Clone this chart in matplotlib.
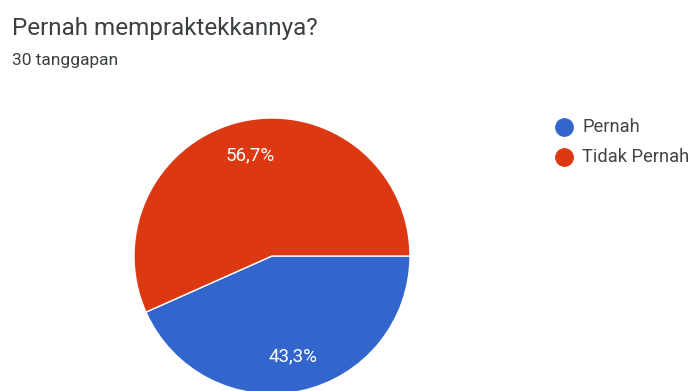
import matplotlib.pyplot as plt

plt.rcParams['font.family'] = ['Roboto', 'DejaVu Sans']

title = 'Pernah mempraktekkannya?'
subtitle = '30 tanggapan'
categories = ['Pernah', 'Tidak Pernah']
counts = [13, 17]
colors = ['#3366cc', '#dc3912']

W, H = 697, 391
fig = plt.figure(figsize=(W / 100, H / 100), dpi=100)

# overlay in pixel coordinates for the header and legend
top = fig.add_axes([0, 0, 1, 1])
top.set_xlim(0, W)
top.set_ylim(H, 0)
top.axis('off')

# pie centred at (272, 256) px, radius 138 px
cx, cy, r = 272, 256, 138
ax = fig.add_axes([(cx - r) / W, (H - cy - r) / H, 2 * r / W, 2 * r / H])
ax.pie(counts, colors=colors, startangle=0, counterclock=False, radius=1,
       autopct=lambda p: f'{p:.1f}%'.replace('.', ','), pctdistance=0.745,
       wedgeprops=dict(edgecolor='white', linewidth=1),
       textprops=dict(color='white', fontsize=13.5))
ax.set_xlim(-1, 1)
ax.set_ylim(-1, 1)
ax.set_aspect('equal')
ax.axis('off')

top.text(12, 35, title, fontsize=17.5, color='#3c4043', va='baseline')
top.text(12, 65, subtitle, fontsize=12.5, color='#3c4043', va='baseline')

for i, (name, c) in enumerate(zip(categories, colors)):
    y = 127 + i * 30
    top.plot([564], [y], marker='o', markersize=12.5, color=c, linestyle='')
    top.text(582, y, name, fontsize=13.2, color='#444444', va='center')

fig.savefig('out.png', dpi=100)
